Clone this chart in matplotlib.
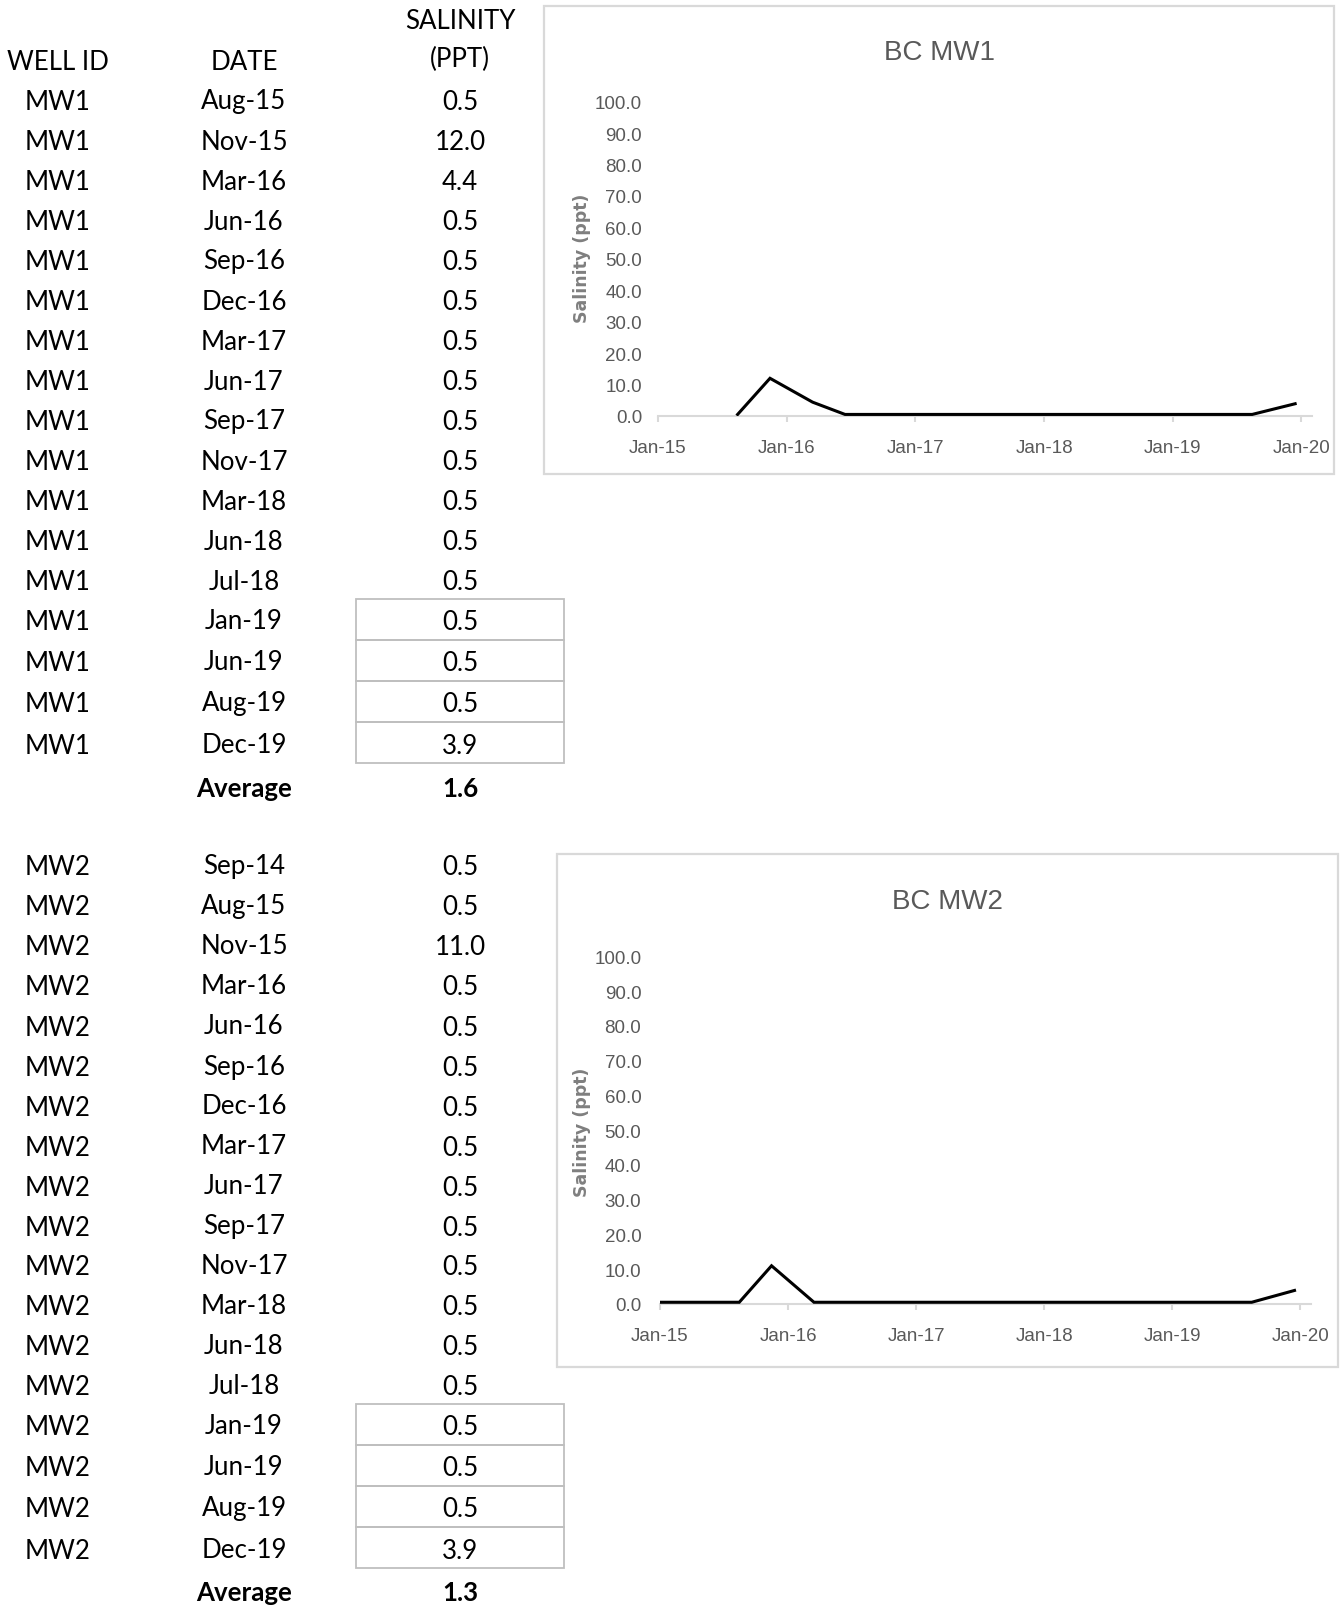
import matplotlib
matplotlib.use('Agg')
import matplotlib.pyplot as plt
import matplotlib.dates as mdates
from matplotlib.patches import Rectangle
import pandas as pd

# salinity readings per well (ppt)
mw1_dates = ['Aug-15', 'Nov-15', 'Mar-16', 'Jun-16', 'Sep-16', 'Dec-16', 'Mar-17', 'Jun-17', 'Sep-17',
             'Nov-17', 'Mar-18', 'Jun-18', 'Jul-18', 'Jan-19', 'Jun-19', 'Aug-19', 'Dec-19']
mw1_salinity = [0.5, 12.0, 4.4, 0.5, 0.5, 0.5, 0.5, 0.5, 0.5, 0.5, 0.5, 0.5, 0.5, 0.5, 0.5, 0.5, 3.9]

mw2_dates = ['Sep-14', 'Aug-15', 'Nov-15', 'Mar-16', 'Jun-16', 'Sep-16', 'Dec-16', 'Mar-17', 'Jun-17',
             'Sep-17', 'Nov-17', 'Mar-18', 'Jun-18', 'Jul-18', 'Jan-19', 'Jun-19', 'Aug-19', 'Dec-19']
mw2_salinity = [0.5, 0.5, 11.0, 0.5, 0.5, 0.5, 0.5, 0.5, 0.5, 0.5, 0.5, 0.5, 0.5, 0.5, 0.5, 0.5, 0.5, 3.9]

n_boxed = 4  # latest readings get a cell border
y_ticks = [0, 10, 20, 30, 40, 50, 60, 70, 80, 90, 100]
year_ticks = ['2015-01-01', '2016-01-01', '2017-01-01', '2018-01-01', '2019-01-01', '2020-01-01']

W, H = 1342, 1608
TABLE_FONT = ['Lato', 'DejaVu Sans']
CHART_FONT = ['Liberation Sans', 'DejaVu Sans']
GREY_TXT = '#595959'
GREY_LINE = '#d9d9d9'


def fx(x):
    return x / W


def fy(y):
    return 1 - y / H


fig = plt.figure(figsize=(W / 100, H / 100), dpi=100)
fig.patch.set_facecolor('white')

COL_ID, COL_DATE, COL_SAL = 58, 244, 460
BOX_L, BOX_R = 356, 564


def cell(x, y, s, bold=False):
    fig.text(fx(x), fy(y + 2.5), s, ha='center', va='center', fontsize=18.6,
             family=TABLE_FONT, weight='bold' if bold else 'normal', color='black')


# table header
cell(COL_ID, 60, 'WELL ID')
cell(COL_DATE, 60, 'DATE')
cell(COL_SAL, 19, 'SALINITY')
cell(COL_SAL, 57, '(PPT)')


def table_block(well, dates, vals, y0, avg_gap):
    n_plain = len(dates) - n_boxed
    for i in range(n_plain):
        y = y0 + 40 * i
        cell(COL_ID, y, well)
        cell(COL_DATE, y - 1, dates[i])
        cell(COL_SAL, y, f'{vals[i]:.1f}')
    box_top = y0 + 40 * (n_plain - 1) + 19
    rh = 41.2
    for k in range(n_boxed):
        i = n_plain + k
        top = box_top + rh * k
        yc = top + rh / 2
        fig.add_artist(Rectangle((fx(BOX_L), fy(top + rh)), fx(BOX_R) - fx(BOX_L), rh / H,
                                 transform=fig.transFigure, fill=False, ec='#bfbfbf', lw=1.3))
        cell(COL_ID, yc, well)
        cell(COL_DATE, yc - 1, dates[i])
        cell(COL_SAL, yc, f'{vals[i]:.1f}')
    y_avg = box_top + rh * n_boxed + avg_gap
    cell(COL_DATE, y_avg, 'Average', bold=True)
    cell(COL_SAL, y_avg, f'{sum(vals) / len(vals):.1f}', bold=True)


table_block('MW1', mw1_dates, mw1_salinity, 100.5, 22)
table_block('MW2', mw2_dates, mw2_salinity, 865.5, 21)


def to_dates(labels):
    return pd.to_datetime(labels, format='%b-%y') + pd.Timedelta(days=14)


def chart(title, dates, vals, box, plot, title_y, ylab_y, ypad):
    bl, bt, br, bb = box
    fig.add_artist(Rectangle((fx(bl), fy(bb)), fx(br) - fx(bl), (bb - bt) / H,
                             transform=fig.transFigure, fill=False, ec=GREY_LINE, lw=1.6))
    pl, pt, pr, pb = plot
    ax = fig.add_axes([fx(pl), fy(pb), fx(pr) - fx(pl), (pb - pt) / H])
    ax.plot(to_dates(dates), vals, color='black', lw=2.2, solid_joinstyle='miter')
    ax.set_xlim(pd.Timestamp('2015-01-01'), pd.Timestamp('2020-01-31'))
    ax.set_ylim(0, 100)
    ax.set_yticks(y_ticks)
    ax.yaxis.set_major_formatter(matplotlib.ticker.FormatStrFormatter('%.1f'))
    ax.set_xticks(pd.to_datetime(year_ticks))
    ax.xaxis.set_major_formatter(mdates.DateFormatter('%b-%y'))
    for s in ['top', 'right', 'left']:
        ax.spines[s].set_visible(False)
    ax.spines['bottom'].set_color(GREY_LINE)
    ax.spines['bottom'].set_linewidth(1.5)
    ax.spines['bottom'].set_zorder(0)
    ax.tick_params(axis='y', length=0, pad=ypad, labelcolor=GREY_TXT, labelsize=13.5)
    ax.tick_params(axis='x', length=4, width=1.5, color=GREY_LINE, pad=12.5,
                   labelcolor=GREY_TXT, labelsize=13.5)
    for lab in ax.get_xticklabels() + ax.get_yticklabels():
        lab.set_family(CHART_FONT)
    ax.patch.set_alpha(0)
    fig.text(fx((bl + br) / 2), fy(title_y), title, ha='center', va='center',
             fontsize=20, family=CHART_FONT, color=GREY_TXT)
    fig.text(fx(582), fy(ylab_y), 'Salinity (ppt)', rotation=90, ha='center', va='center',
             fontsize=12.5, weight='bold', family='DejaVu Sans', color='#7f7f7f')
    return ax


chart('BC MW1', mw1_dates, mw1_salinity, (544, 7, 1334, 475), (658, 102.7, 1311.7, 417),
      53, 258, 11.5)
chart('BC MW2', mw2_dates, mw2_salinity, (557, 855, 1338, 1368), (660, 957.5, 1311, 1305),
      902, 1132, 13.5)

fig.savefig('out.png', dpi=100, facecolor='white')
